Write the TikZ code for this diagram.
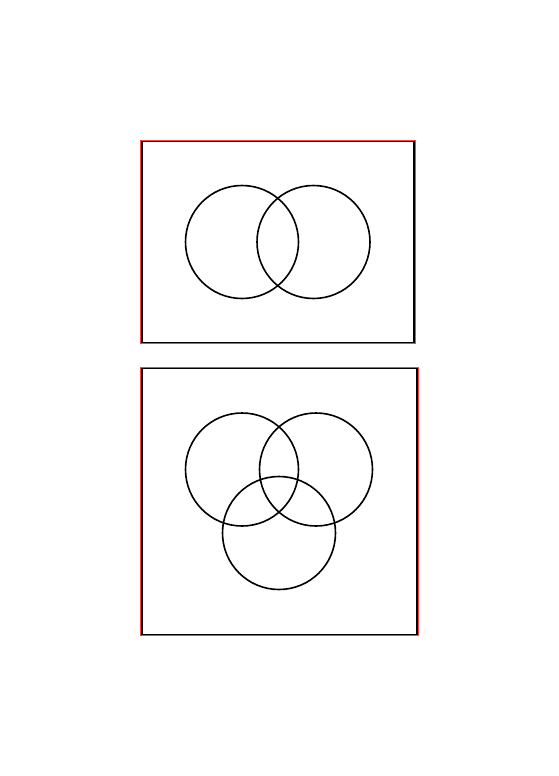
\documentclass[tikz,border=0pt]{standalone}
\begin{document}
\begin{tikzpicture}[
x=1pt, y=-1pt,
frame/.style={draw=red!75, line width=1.2pt, inner sep=0pt},
panel/.style={draw=black, line width=1.6pt, inner sep=0pt},
set/.style={draw, circle, line width=1.6pt, minimum size=113pt, inner sep=0pt}
]
\useasboundingbox (0,0) rectangle (558,776);
% two-set diagram
\node[frame, minimum width=274.4pt, minimum height=203.4pt] (redtop) at (277.8,242) {};
\node[panel, minimum width=272pt, minimum height=201pt] (top) at (278,242) {};
\node[set] (a) at (242,242) {};
\node[set] (b) at (313.5,242) {};
% three-set diagram
\node[frame, minimum width=277.4pt, minimum height=268.4pt] (redbot) at (279.3,501.5) {};
\node[panel, minimum width=275pt, minimum height=266pt] (bot) at (279.5,501.5) {};
\node[set] (p) at (242,469.5) {};
\node[set] (q) at (316,469.5) {};
\node[set] (r) at (279,533) {};
\end{tikzpicture}
\end{document}
